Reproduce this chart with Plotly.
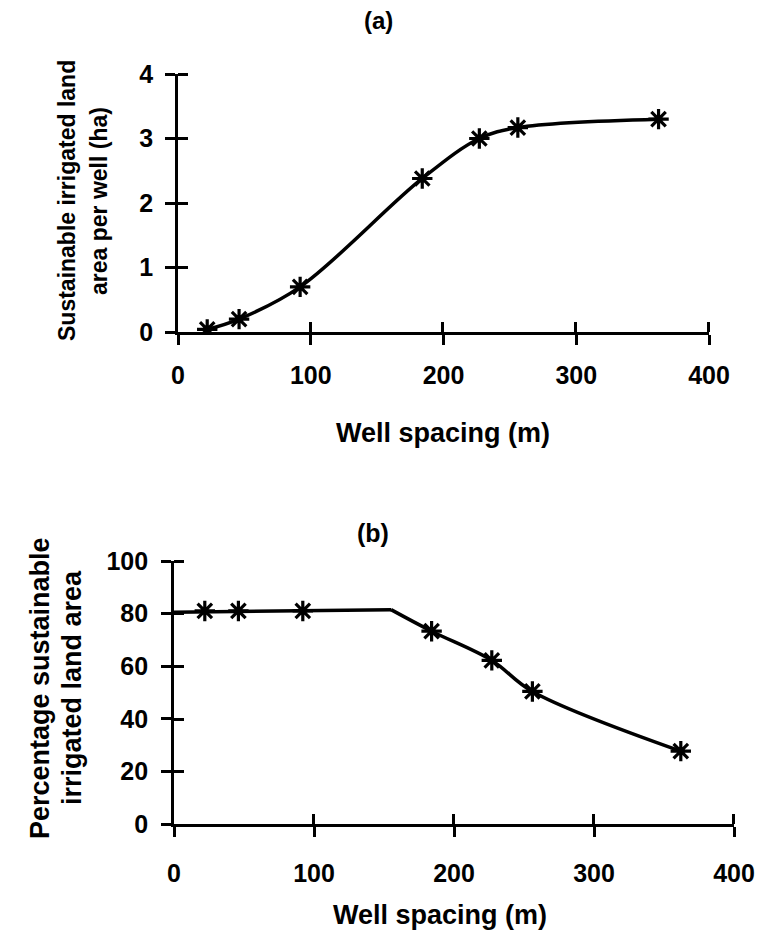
import plotly.graph_objects as go

# ---------------- data ----------------
well_spacing = [22, 46, 92, 184, 227, 256, 362]
area_per_well = [0.04, 0.2, 0.7, 2.38, 3.0, 3.17, 3.3]
pct_area = [81, 81, 81, 73.3, 62.2, 50.4, 27.7]
# line of panel (b): flat part then curved decline
flat_x = [0, 155]
flat_y = [80.5, 81.5]
curve_x = [155] + well_spacing[3:]
curve_y = [81.5] + pct_area[3:]

x_ticks = [0, 100, 200, 300, 400]
y_ticks_a = [0, 1, 2, 3, 4]
y_ticks_b = [0, 20, 40, 60, 80, 100]

title_a = "(a)"
title_b = "(b)"
xlabel = "Well spacing (m)"
ylabel_a = ["Sustainable irrigated land", "area per well (ha)"]
ylabel_b = ["Percentage sustainable", "irrigated land area"]

# page is 770x941; the html body adds an 8 px margin around the figure
PAGE_W, PAGE_H = 770, 941
OFF = 8
W, H = PAGE_W - 2 * OFF, PAGE_H - 2 * OFF
FONT = "Liberation Sans, Arial, sans-serif"

def px_x(p):
    return (p - OFF) / W

def px_y(p):
    return 1 - (p - OFF) / H

fig = go.Figure()

line_style = dict(color="black", width=3.5)
marker_style = dict(symbol="asterisk-open", size=17, color="black",
                    line=dict(color="black", width=3.2))

# panel (a)
fig.add_trace(go.Scatter(x=well_spacing, y=area_per_well, mode="lines",
                         line=dict(shape="spline", smoothing=1.0, **line_style),
                         xaxis="x", yaxis="y", hoverinfo="skip"))
fig.add_trace(go.Scatter(x=well_spacing, y=area_per_well, mode="markers",
                         marker=marker_style, xaxis="x", yaxis="y"))

# panel (b)
fig.add_trace(go.Scatter(x=flat_x, y=flat_y, mode="lines", line=line_style,
                         xaxis="x2", yaxis="y2", hoverinfo="skip"))
fig.add_trace(go.Scatter(x=curve_x, y=curve_y, mode="lines",
                         line=dict(shape="spline", smoothing=1.0, **line_style),
                         xaxis="x2", yaxis="y2", hoverinfo="skip"))
fig.add_trace(go.Scatter(x=well_spacing, y=pct_area, mode="markers",
                         marker=marker_style, xaxis="x2", yaxis="y2"))

tick_font = dict(family=FONT, size=25, color="black", weight="bold")

def axis(domain, rng, tickvals, standoff, eps, anchor):
    # major ticks outside + minor ticks inside -> ticks crossing the axis line
    return dict(domain=domain, range=rng, tickvals=tickvals, ticks="outside",
                ticklen=10, tickwidth=2.5, tickcolor="black",
                minor=dict(tickmode="array", tickvals=[v - eps for v in tickvals],
                           ticks="inside", ticklen=10, tickwidth=2.5,
                           tickcolor="black", showgrid=False),
                showline=True, linecolor="black", linewidth=2.8,
                showgrid=False, zeroline=False, tickfont=tick_font,
                ticklabelstandoff=standoff, automargin=False,
                fixedrange=True, anchor=anchor)

xa_dom = [px_x(178), px_x(709)]
ya_dom = [px_y(332), px_y(74)]
xb_dom = [px_x(174), px_x(734)]
yb_dom = [px_y(824), px_y(561)]

fig.update_layout(
    width=W, height=H,
    margin=dict(l=0, r=0, t=0, b=0, autoexpand=False),
    paper_bgcolor="white", plot_bgcolor="white",
    showlegend=False,
    xaxis=axis(xa_dom, [0, 400], x_ticks, 9, 0.4, "y"),
    yaxis=axis(ya_dom, [0, 4], y_ticks_a, 7, 0.004, "x"),
    xaxis2=axis(xb_dom, [0, 400], x_ticks, 15, 0.4, "y2"),
    yaxis2=axis(yb_dom, [0, 100], y_ticks_b, 8, 0.1, "x2"),
)

title_font = dict(family=FONT, size=24, color="black", weight="bold")
ht_font = dict(family=FONT, size=27, color="black", weight="bold")
vt_font_a = dict(family=FONT, size=23, color="black", weight="bold")
vt_font_b = dict(family=FONT, size=27, color="black", weight="bold")

annotations = [
    dict(text=title_a, x=px_x(378), y=px_y(21), font=title_font),
    dict(text=title_b, x=px_x(373), y=px_y(533), font=dict(title_font, size=25)),
    dict(text=xlabel, x=px_x(443), y=px_y(433), font=ht_font),
    dict(text=xlabel, x=px_x(440), y=px_y(915), font=ht_font),
    dict(text=ylabel_a[0], x=px_x(67), y=px_y(201), textangle=-90, font=vt_font_a),
    dict(text=ylabel_a[1], x=px_x(99), y=px_y(201), textangle=-90, font=vt_font_a),
    dict(text=ylabel_b[0], x=px_x(40), y=px_y(688), textangle=-90, font=vt_font_b),
    dict(text=ylabel_b[1], x=px_x(72), y=px_y(688), textangle=-90, font=vt_font_b),
]
for a in annotations:
    a.update(xref="paper", yref="paper", showarrow=False,
             xanchor="center", yanchor="middle")
fig.update_layout(annotations=annotations)

fig.write_html("out.html")
